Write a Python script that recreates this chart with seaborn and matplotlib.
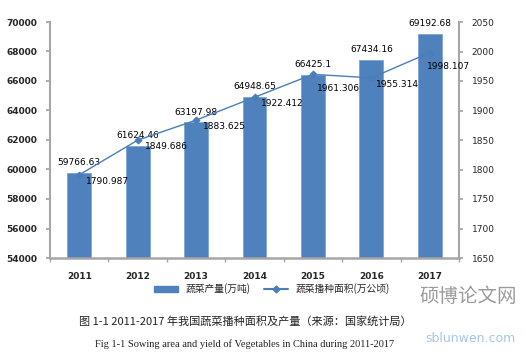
import matplotlib
matplotlib.use("Agg")
import matplotlib.pyplot as plt
import seaborn as sns
import numpy as np
import pandas as pd
from matplotlib.lines import Line2D
from matplotlib.patches import Patch

years = ["2011", "2012", "2013", "2014", "2015", "2016", "2017"]
output = [59766.63, 61624.46, 63197.98, 64948.65, 66425.1, 67434.16, 69192.68]
area = [1790.987, 1849.686, 1883.625, 1922.412, 1961.306, 1955.314, 1998.107]
output_labels = ["59766.63", "61624.46", "63197.98", "64948.65", "66425.1", "67434.16", "69192.68"]
area_labels = ["1790.987", "1849.686", "1883.625", "1922.412", "1961.306", "1955.314", "1998.107"]
legend_labels = ["蔬菜产量(万吨)", "蔬菜播种面积(万公顷)"]
caption_cn = "图 1-1 2011-2017 年我国蔬菜播种面积及产量（来源：国家统计局）"
caption_en = "Fig 1-1 Sowing area and yield of Vegetables in China during 2011-2017"
watermark_cn = "硕博论文网"
watermark_en = "sblunwen.com"

# label offsets (points) for the area labels
area_offsets = [(5, -4.5), (5, -4.5), (5, -4.5), (5, -4.5), (3, -10), (3, -4.5), (-2, -10)]

sns.set_theme(style="white")
plt.rcParams['font.family'] = ['DejaVu Sans', 'Noto Sans CJK SC']

BAR = "#4f81bd"
LINE = "#4a7ebb"
SPINE = "#a6a6a6"

df = pd.DataFrame({"year": years, "output": output, "area": area})

fig = plt.figure(figsize=(5.25, 3.56), dpi=100)
ax = fig.add_axes([50/525, 1-258/356, (459-50)/525, (258-22)/356])

sns.barplot(data=df, x="year", y="output", ax=ax, color=BAR, width=0.41,
            saturation=1, edgecolor="#7fa3d3", linewidth=0.6)
ax.set_ylim(54000, 70000)
ax.set_yticks(np.arange(54000, 70001, 2000))
ax.set_xlim(-0.5, 6.5)
ax.set_xlabel("")
ax.set_ylabel("")
for lab in ax.get_yticklabels():
    lab.set_fontweight("bold")
    lab.set_fontsize(6.5)
ax.set_xticks(range(len(years)))
ax.set_xticklabels(years, fontsize=6.5, fontweight="bold")
ax.tick_params(axis="x", length=0, pad=10)
ax.set_xticks(np.arange(-0.5, 7, 1), minor=True)
ax.tick_params(axis="x", which="minor", length=3, color=SPINE, direction="out", bottom=True)
ax.tick_params(axis="y", length=3, color=SPINE, direction="out", left=True, pad=6)
ax.spines["top"].set_visible(False)
ax.spines["left"].set_color(SPINE)
ax.spines["left"].set_linewidth(1.5)
ax.spines["bottom"].set_color(SPINE)
ax.spines["bottom"].set_linewidth(1.8)
ax.spines["right"].set_visible(False)

for i, (v, t) in enumerate(zip(output, output_labels)):
    ax.annotate(t, (i, v), xytext=(0, 4), textcoords="offset points",
                ha="center", va="bottom", fontsize=6.5, color="black")

ax2 = ax.twinx()
sns.lineplot(x=np.arange(len(years)), y=area, ax=ax2, color=LINE, linewidth=1,
             marker="D", markersize=3.5, markeredgecolor=LINE)
ax2.set_ylim(1650, 2050)
ax2.set_yticks(np.arange(1650, 2051, 50))
ax2.set_xlim(-0.5, 6.5)
ax2.tick_params(axis="y", length=3, color=SPINE, direction="out", right=True, pad=6, labelsize=6.5)
for s in ["top", "left", "bottom"]:
    ax2.spines[s].set_visible(False)
ax2.spines["right"].set_color(SPINE)
ax2.spines["right"].set_linewidth(1.5)

for i, (v, t) in enumerate(zip(area, area_labels)):
    ax2.annotate(t, (i, v), xytext=area_offsets[i], textcoords="offset points",
                 ha="left", va="center", fontsize=6.5, color="black")

handles = [Patch(facecolor=BAR, edgecolor=BAR),
           Line2D([0], [0], color=LINE, marker="D", markersize=3.5, linewidth=1.5)]
fig.legend(handles, legend_labels, loc="center", bbox_to_anchor=(272/525, 1-289/356),
           ncol=2, frameon=False, handlelength=2.4, columnspacing=1.4,
           prop={"family": ["Noto Sans CJK SC", "DejaVu Sans"], "size": 7})

fig.text(245/525, 1-321/356, caption_cn, ha="center", va="center", fontsize=8,
         family=["Noto Sans CJK SC", "DejaVu Sans"], color="#222222")
fig.text(245/525, 1-344/356, caption_en, ha="center", va="center", fontsize=7.5,
         family=["Liberation Serif", "DejaVu Serif"], color="#222222")

# watermark (kept clear of the other texts)
fig.text(468/525, 1-296/356, watermark_cn, ha="center", va="center", fontsize=14,
         family=["Noto Sans CJK SC"], color="#7a7a7a", alpha=0.75)
fig.text(470/525, 1-338/356, watermark_en, ha="center", va="center", fontsize=9,
         family=["DejaVu Sans"], color="#9cc0e6", alpha=0.9)

fig.savefig("out.png", dpi=100)
